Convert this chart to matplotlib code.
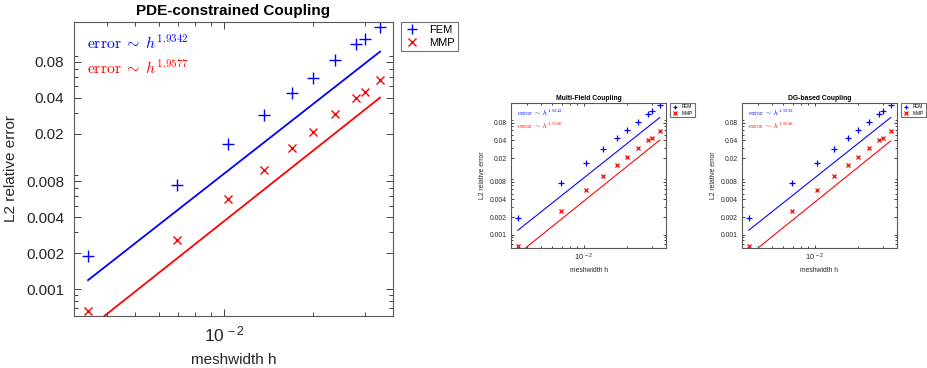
import matplotlib
matplotlib.use('Agg')
import numpy as np
import matplotlib.pyplot as plt
from matplotlib.ticker import FixedLocator, LogLocator, NullFormatter, FuncFormatter

plt.rcParams['font.family'] = ['Liberation Sans', 'DejaVu Sans']
plt.rcParams['mathtext.fontset'] = 'cm'

# meshwidths and errors
h = [0.00346, 0.00693, 0.01032, 0.01367, 0.0170, 0.0200, 0.0238, 0.0280, 0.0301, 0.0338]
err_fem = [0.00189, 0.00746, 0.0165, 0.0289, 0.0442, 0.0591, 0.0832, 0.1127, 0.1256, 0.1585]
err_mmp = [0.00065, 0.00256, 0.00570, 0.00993, 0.01528, 0.0206, 0.0293, 0.0402, 0.0446, 0.0569]

titles = ['PDE-constrained Coupling', 'Multi-Field Coupling', 'DG-based Coupling']
rate_fem = [1.9342, 1.9342, 1.9332]
rate_mmp = [1.9577, 1.9560, 1.9646]
coef_fem = 68.4
coef_mmp = 30.5

yticks = [0.001, 0.002, 0.004, 0.008, 0.02, 0.04, 0.08]
ytick_labels = ['0.001', '0.002', '0.004', '0.008', '0.02', '0.04', '0.08']

W, H = 927, 368
fig = plt.figure(figsize=(W / 100, H / 100), dpi=100)

# axes boxes in pixels: left, top, right, bottom
boxes = [(74, 22, 393, 316), (511, 103, 666, 248), (742, 103, 897, 248)]
scales = [1.0, 0.44, 0.44]


def xfmt(v, p):
    e = int(round(np.log10(v)))
    return r'$\mathregular{10^{\,%d}}$' % e


def draw(ax, i, s):
    hh = np.array(h)
    ax.plot(h, err_fem, '+', color='blue', ms=8.5 * s, mew=1.0 if s == 1 else 0.9, label='FEM')
    ax.plot(h, err_mmp, 'x', color='red', ms=6 * s, mew=1.0 if s == 1 else 0.9, label='MMP')
    ax.plot(hh, coef_fem * hh ** rate_fem[i], '-', color='blue', lw=1.3 * max(s, 0.6))
    ax.plot(hh, coef_mmp * hh ** rate_mmp[i], '-', color='red', lw=1.3 * max(s, 0.6))
    ax.set_xscale('log')
    ax.set_yscale('log')
    ax.set_xlim(0.0031, 0.0374)
    ax.set_ylim(0.000595, 0.173)
    ax.yaxis.set_major_locator(FixedLocator(yticks))
    ax.yaxis.set_major_formatter(FuncFormatter(lambda v, p: ytick_labels[yticks.index(v)] if v in yticks else ''))
    ax.yaxis.set_minor_locator(LogLocator(base=10, subs=np.arange(2, 10)))
    ax.yaxis.set_minor_formatter(NullFormatter())
    ax.xaxis.set_major_formatter(FuncFormatter(xfmt))
    ax.xaxis.set_minor_formatter(NullFormatter())
    fs = 11 * s
    ax.tick_params(which='both', direction='in', top=True, right=True, labelsize=fs, colors='0.15', width=0.6)
    ax.tick_params(which='major', length=5 * s)
    ax.tick_params(which='minor', length=2.8 * s)
    ax.tick_params(axis='y', pad=7 * s)
    ax.tick_params(axis='x', pad=6 * s, labelsize=12.5 * s)
    for sp in ax.spines.values():
        sp.set_color('0.35')
        sp.set_linewidth(0.8)
    ax.set_title(titles[i], fontsize=11 * s, fontweight='bold', pad=5 * s)
    ax.set_xlabel('meshwidth h', fontsize=fs, color='0.15', labelpad=6 * s)
    ax.set_ylabel('L2 relative error', fontsize=fs, color='0.15', labelpad=6 * s)
    ax.text(0.04, 0.93, r'$\mathrm{error}\;\sim\;h^{%.4f}$' % rate_fem[i], transform=ax.transAxes,
            color='blue', fontsize=11.3 * s, va='center', ha='left')
    ax.text(0.04, 0.845, r'$\mathrm{error}\;\sim\;h^{%.4f}$' % rate_mmp[i], transform=ax.transAxes,
            color='red', fontsize=11.3 * s, va='center', ha='left')
    leg = ax.legend(loc='upper left', bbox_to_anchor=(1.025, 1.0), borderaxespad=0, fancybox=False,
                    fontsize=8 * s, handlelength=1.3, handletextpad=0.9, borderpad=0.3,
                    labelspacing=0.25, markerscale=0.85)
    leg.get_frame().set_edgecolor('0.3')
    leg.get_frame().set_linewidth(0.8)


for i, (l, t, r, b) in enumerate(boxes):
    ax = fig.add_axes([l / W, 1 - b / H, (r - l) / W, (b - t) / H])
    draw(ax, i, scales[i])

fig.savefig('out.png', dpi=100)
